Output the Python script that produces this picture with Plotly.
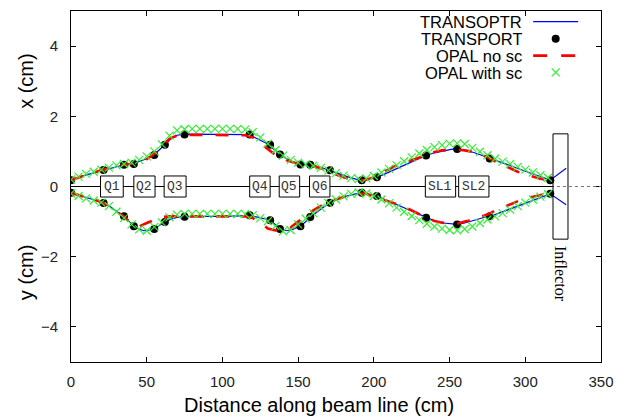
import plotly.graph_objects as go

# ---- TRANSOPTR envelope (solid blue) ----
s_transoptr_x = [0, 5, 10, 15, 20, 25, 30, 35, 40, 45, 50, 55, 58, 62, 66, 70, 75, 80, 90, 100, 110,
                 118, 122, 126, 130, 134, 138, 142, 146, 151, 155, 160, 165, 171, 176, 182, 188, 192,
                 197, 202, 210, 218, 226, 234, 240, 246, 251, 255, 260, 266, 272, 277, 285, 293, 301,
                 309, 316.5, 327]
x_transoptr = [0.18, 0.26, 0.33, 0.39, 0.45, 0.51, 0.57, 0.62, 0.64, 0.71, 0.79, 0.91, 1.02, 1.19, 1.36,
               1.46, 1.49, 1.49, 1.49, 1.49, 1.49, 1.48, 1.38, 1.30, 1.21, 1.06, 0.92, 0.80, 0.71, 0.63,
               0.62, 0.60, 0.54, 0.46, 0.38, 0.29, 0.21, 0.18, 0.21, 0.26, 0.41, 0.56, 0.72, 0.88, 0.96,
               1.02, 1.06, 1.07, 1.04, 0.97, 0.88, 0.80, 0.67, 0.55, 0.42, 0.30, 0.18, 0.52]

s_transoptr_y = [0, 5, 10, 15, 20, 22, 26, 30, 35, 38, 42, 45, 48, 52, 55, 58, 62, 66, 70, 75, 80, 90,
                 100, 110, 118, 124, 131.5, 135, 138, 142, 146, 151.5, 155, 158, 162, 166, 171, 176,
                 182, 188, 192, 197, 202, 210, 218, 226, 234, 240, 246, 251, 255, 260, 266, 272, 277,
                 285, 293, 301, 309, 316.5, 327]
y_transoptr = [-0.18, -0.25, -0.32, -0.38, -0.44, -0.47, -0.58, -0.70, -0.86, -0.98, -1.13, -1.21, -1.26,
               -1.24, -1.21, -1.12, -1.01, -0.93, -0.88, -0.86, -0.85, -0.85, -0.85, -0.85, -0.83, -0.88,
               -0.96, -1.09, -1.21, -1.26, -1.23, -1.13, -1.00, -0.87, -0.74, -0.61, -0.46, -0.36, -0.27,
               -0.21, -0.18, -0.22, -0.27, -0.42, -0.57, -0.73, -0.89, -0.98, -1.04, -1.07, -1.08, -1.04,
               -0.96, -0.89, -0.85, -0.72, -0.59, -0.46, -0.33, -0.21, -0.52]

# ---- TRANSPORT (black dots at element boundaries) ----
s_transport = [0, 21.5, 35, 41.5, 55, 62, 75, 118, 131.5, 138, 151.5, 158, 171, 192, 202,
               234.5, 255, 276.5, 316.5]
x_transport = [0.18, 0.47, 0.62, 0.64, 0.90, 1.19, 1.48, 1.48, 1.19, 0.91, 0.63, 0.62, 0.46, 0.18,
               0.26, 0.88, 1.07, 0.80, 0.18]
y_transport = [-0.18, -0.47, -0.85, -1.13, -1.21, -1.01, -0.86, -0.82, -0.96, -1.21, -1.13, -0.87,
               -0.46, -0.18, -0.27, -0.89, -1.08, -0.85, -0.21]

# ---- OPAL without space charge (red dashed) ----
s_opal = list(range(0, 320, 5))
x_opal_nosc = [0.18, 0.26, 0.33, 0.40, 0.46, 0.52, 0.58, 0.62, 0.65, 0.70, 0.78, 0.93, 1.15, 1.36,
               1.45, 1.47, 1.47, 1.47, 1.47, 1.47, 1.47, 1.47, 1.47, 1.46, 1.40, 1.23, 1.05, 0.90,
               0.78, 0.70, 0.64, 0.61, 0.58, 0.52, 0.45, 0.34, 0.26, 0.21, 0.18, 0.19, 0.26, 0.38,
               0.50, 0.60, 0.67, 0.75, 0.84, 0.92, 0.98, 1.03, 1.05, 1.05, 1.03, 0.99, 0.92, 0.84,
               0.72, 0.62, 0.51, 0.42, 0.34, 0.27, 0.22, 0.18]
y_opal_nosc = [-0.18, -0.25, -0.32, -0.38, -0.44, -0.55, -0.70, -0.86, -1.06, -1.14, -1.04, -0.95,
               -0.87, -0.85, -0.85, -0.85, -0.85, -0.85, -0.85, -0.85, -0.85, -0.85, -0.85, -0.85,
               -0.90, -1.02, -1.20, -1.25, -1.23, -1.17, -1.00, -0.84, -0.68, -0.55, -0.45, -0.37,
               -0.30, -0.24, -0.20, -0.21, -0.28, -0.36, -0.43, -0.49, -0.58, -0.68, -0.80, -0.90,
               -0.98, -1.03, -1.05, -1.06, -1.00, -0.95, -0.87, -0.80, -0.69, -0.60, -0.52, -0.43,
               -0.33, -0.29, -0.24, -0.20]

# ---- OPAL with space charge (green crosses) ----
x_opal_sc = [0.20, 0.28, 0.36, 0.42, 0.48, 0.54, 0.60, 0.64, 0.68, 0.76, 0.86, 1.00, 1.20, 1.45,
             1.60, 1.63, 1.64, 1.64, 1.64, 1.64, 1.64, 1.64, 1.64, 1.62, 1.55, 1.40, 1.22, 1.04,
             0.88, 0.76, 0.68, 0.63, 0.59, 0.53, 0.46, 0.38, 0.31, 0.24, 0.21, 0.23, 0.30, 0.40,
             0.50, 0.61, 0.72, 0.83, 0.94, 1.04, 1.12, 1.18, 1.22, 1.23, 1.21, 1.10, 0.99, 0.89,
             0.79, 0.71, 0.64, 0.56, 0.48, 0.40, 0.32, 0.25]
y_opal_sc = [-0.20, -0.27, -0.34, -0.40, -0.46, -0.56, -0.72, -0.90, -1.08, -1.22, -1.26, -1.15,
             -1.02, -0.88, -0.80, -0.78, -0.78, -0.78, -0.78, -0.78, -0.78, -0.78, -0.78, -0.78,
             -0.82, -0.90, -0.99, -1.13, -1.28, -1.24, -1.08, -0.92, -0.76, -0.60, -0.47, -0.37,
             -0.28, -0.21, -0.17, -0.20, -0.27, -0.37, -0.48, -0.60, -0.72, -0.84, -0.96, -1.06,
             -1.14, -1.20, -1.24, -1.25, -1.21, -1.14, -1.04, -0.94, -0.85, -0.76, -0.66, -0.56,
             -0.46, -0.37, -0.29, -0.22]

# ---- Beamline elements ----
element_names = ["Q1", "Q2", "Q3", "Q4", "Q5", "Q6", "SL1", "SL2"]
element_start = [19.5, 41.5, 61.5, 118, 137.5, 157.5, 234, 256]
element_end = [34.5, 55.5, 76, 131.5, 151, 171, 254, 276]
element_half_height = 0.3

inflector_start, inflector_end = 318.3, 328.2
inflector_half_height = 1.5

x_range = [0, 350]
y_range = [-5, 5]
x_ticks = [0, 50, 100, 150, 200, 250, 300, 350]
y_ticks = [-4, -2, 0, 2, 4]

BLUE = "#0000ff"
RED = "#ff0000"
GREEN = "#33ee33"
FONT = "Liberation Sans, Arial, sans-serif"

# plot area geometry (pixels) used to place the free-standing labels
PLOT_LEFT, PLOT_WIDTH = 71, 538

fig = go.Figure()

for s, v in [(s_transoptr_x, x_transoptr), (s_transoptr_y, y_transoptr)]:
    fig.add_trace(go.Scatter(x=s, y=v, mode="lines", line=dict(color=BLUE, width=1.2),
                             name="TRANSOPTR", showlegend=False))
for v in (x_transport, y_transport):
    fig.add_trace(go.Scatter(x=s_transport, y=v, mode="markers",
                             marker=dict(color="black", size=8), name="TRANSPORT", showlegend=False))
for v in (x_opal_nosc, y_opal_nosc):
    fig.add_trace(go.Scatter(x=s_opal, y=v, mode="lines",
                             line=dict(color=RED, width=2.6, dash="13px,13px"),
                             name="OPAL no sc", showlegend=False))
for v in (x_opal_sc, y_opal_sc):
    fig.add_trace(go.Scatter(x=s_opal, y=v, mode="markers",
                             marker=dict(symbol="x-thin", size=8, line=dict(color=GREEN, width=1.2)),
                             name="OPAL with sc", showlegend=False))

shapes = []
annotations = []

# beam axis: dotted reference across the plot, solid beamline up to the inflector
shapes.append(dict(type="line", xref="x", yref="y", x0=x_range[0], x1=x_range[1], y0=0, y1=0,
                   line=dict(color="#777777", width=1, dash="dot")))
shapes.append(dict(type="line", xref="x", yref="y", x0=x_range[0], x1=inflector_start, y0=0, y1=0,
                   line=dict(color="black", width=1.2)))

for name, a, b in zip(element_names, element_start, element_end):
    shapes.append(dict(type="rect", xref="x", yref="y", x0=a, x1=b,
                       y0=-element_half_height, y1=element_half_height,
                       fillcolor="white", line=dict(color="black", width=1)))
    annotations.append(dict(x=(a + b) / 2, y=0, xref="x", yref="y", text=name, showarrow=False,
                            font=dict(family="Liberation Mono, monospace", size=13, color="#333333"),
                            xanchor="center", yanchor="middle"))

shapes.append(dict(type="rect", xref="x", yref="y", x0=inflector_start, x1=inflector_end,
                   y0=-inflector_half_height, y1=inflector_half_height,
                   fillcolor="rgba(0,0,0,0)", line=dict(color="black", width=1)))
annotations.append(dict(x=(inflector_start + inflector_end) / 2, y=-inflector_half_height - 0.15,
                        xref="x", yref="y", text="Inflector", showarrow=False, textangle=90,
                        font=dict(family="Liberation Serif, Times New Roman, serif", size=16,
                                  color="black"),
                        xanchor="center", yanchor="top"))

# axis labels
annotations.append(dict(x=0.467, y=-0.122, xref="paper", yref="paper",
                        text="Distance along beam line (cm)", showarrow=False,
                        font=dict(family=FONT, size=20, color="black"),
                        xanchor="center", yanchor="middle"))
ylabel_x = (26 - PLOT_LEFT) / PLOT_WIDTH
for txt, yp in [("x (cm)", 0.80), ("y (cm)", 0.255)]:
    annotations.append(dict(x=ylabel_x, y=yp, xref="paper", yref="paper", text=txt, showarrow=False,
                            textangle=-90, font=dict(family=FONT, size=20, color="black"),
                            xanchor="center", yanchor="middle"))

# key, in the top right corner: label then sample
key_labels = ["TRANSOPTR", "TRANSPORT", "OPAL no sc", "OPAL with sc"]
key_rows = [0.970, 0.921, 0.873, 0.825]
key_text_x = 0.853
key_sample_x0, key_sample_x1 = 0.872, 0.957
key_sample_xc = 0.9145
for lab, yr in zip(key_labels, key_rows):
    annotations.append(dict(x=key_text_x, y=yr, xref="paper", yref="paper", text=lab,
                            showarrow=False, font=dict(family=FONT, size=16.5, color="black"),
                            height=15, borderpad=0, xanchor="right", yanchor="middle"))
shapes.append(dict(type="line", xref="paper", yref="paper", x0=key_sample_x0, x1=key_sample_x1,
                   y0=key_rows[0], y1=key_rows[0], line=dict(color=BLUE, width=1.2)))
shapes.append(dict(type="circle", xref="paper", yref="paper", xsizemode="pixel", ysizemode="pixel",
                   xanchor=key_sample_xc, yanchor=key_rows[1], x0=-4, x1=4, y0=-4, y1=4,
                   fillcolor="black", line=dict(color="black", width=0)))
shapes.append(dict(type="line", xref="paper", yref="paper", x0=key_sample_x0, x1=0.955,
                   y0=key_rows[2], y1=key_rows[2], line=dict(color=RED, width=2.6, dash="14px,14px")))
for sgn in (1, -1):
    shapes.append(dict(type="line", xref="paper", yref="paper", xsizemode="pixel", ysizemode="pixel",
                       xanchor=key_sample_xc, yanchor=key_rows[3], x0=-4, x1=4, y0=-4 * sgn,
                       y1=4 * sgn, line=dict(color=GREEN, width=1.2)))

fig.update_layout(
    width=624, height=420,
    margin=dict(l=71, r=15, t=10, b=58),
    paper_bgcolor="white", plot_bgcolor="white",
    showlegend=False,
    shapes=shapes, annotations=annotations,
    font=dict(family=FONT, size=15, color="black"),
)
fig.update_xaxes(range=x_range, tickvals=x_ticks, ticks="inside", ticklen=5, tickcolor="black",
                 showline=True, linecolor="black", linewidth=1, mirror="allticks",
                 showgrid=False, zeroline=False, ticklabelstandoff=6,
                 tickfont=dict(family=FONT, size=15, color="#222222"))
fig.update_yaxes(range=y_range, tickvals=y_ticks, ticks="inside", ticklen=5, tickcolor="black",
                 showline=True, linecolor="black", linewidth=1, mirror="allticks",
                 showgrid=False, zeroline=False, ticklabelstandoff=9,
                 tickfont=dict(family=FONT, size=15, color="#222222"))

fig.write_html("out.html")
